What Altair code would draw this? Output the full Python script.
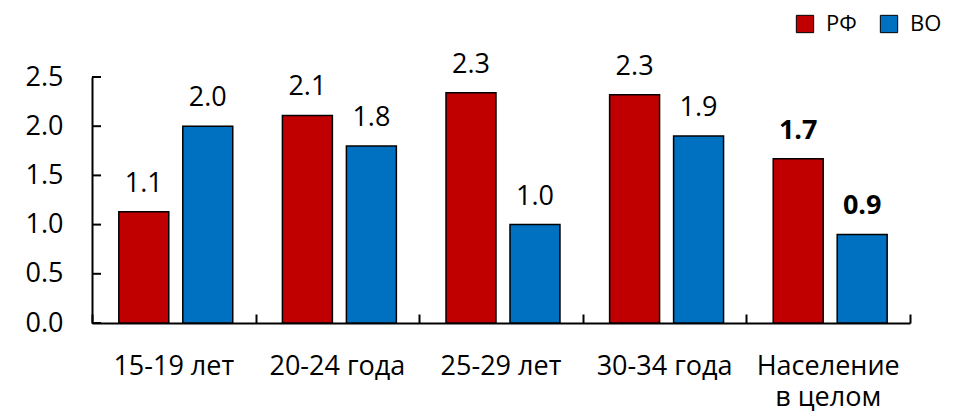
import altair as alt
import pandas as pd

categories = ["15-19 лет", "20-24 года", "25-29 лет", "30-34 года", "Население в целом"]
series = ["РФ", "ВО"]
rf_values = [1.13, 2.11, 2.34, 2.32, 1.67]
vo_values = [2.0, 1.8, 1.0, 1.9, 0.9]
colors = ["#C00000", "#0070C0"]
y_ticks = [0, 0.5, 1.0, 1.5, 2.0, 2.5]
bold_category = "Население в целом"

rows = []
for i, c in enumerate(categories):
    rows.append({"cat": c, "series": series[0], "value": rf_values[i]})
    rows.append({"cat": c, "series": series[1], "value": vo_values[i]})
df = pd.DataFrame(rows)
ticks_df = pd.DataFrame({"tick": y_ticks})

W, H = 818, 246
FONT = "Open Sans"
TICK_LEN = 9

xscale = alt.Scale(paddingInner=0, paddingOuter=0)
yscale = alt.Scale(domain=[0, 2.5], nice=False, zero=True)
xoff = alt.XOffset("series:N", sort=series,
                   scale=alt.Scale(paddingInner=0.219, paddingOuter=0.388, align=0.54))

label_expr = ("datum.label == 'Население в целом' ? ['Население', 'в целом'] : datum.label")

bars = alt.Chart(df).mark_bar(stroke="black", strokeWidth=1.5).encode(
    x=alt.X("cat:N", sort=categories, scale=xscale,
            axis=alt.Axis(title=None, orient="bottom", labelFont=FONT, labelFontSize=27,
                          labelColor="black", labelPadding=30, labelLineHeight=31,
                          labelAngle=0, ticks=False, tickSize=0, domainColor="black",
                          domainWidth=2, labelExpr=label_expr)),
    xOffset=xoff,
    y=alt.Y("value:Q", scale=yscale,
            axis=alt.Axis(title=None, orient="left", values=y_ticks, format=".1f",
                          labelFont=FONT, labelFontSize=27, labelColor="black",
                          labelPadding=29, ticks=False, tickSize=0, grid=False,
                          domainColor="black", domainWidth=2)),
    color=alt.Color("series:N", sort=series,
                    scale=alt.Scale(domain=series, range=colors),
                    legend=alt.Legend(title=None, orient="none", legendX=702, legendY=-64,
                                      direction="horizontal", symbolType="square",
                                      symbolSize=300, symbolStrokeColor="black",
                                      symbolStrokeWidth=1, symbolOpacity=1,
                                      labelFont=FONT, labelFontSize=22, labelColor="black",
                                      labelOffset=10, columnPadding=21)),
)

texts_normal = alt.Chart(df).transform_filter(
    alt.datum.cat != bold_category
).mark_text(font=FONT, fontSize=27, baseline="alphabetic", dy=-20, color="black").encode(
    x=alt.X("cat:N", sort=categories, scale=xscale,
            axis=alt.Axis(title=None, orient="top", offset=-H, labels=False,
                          domain=False, ticks=True, tickSize=TICK_LEN, tickColor="black",
                          tickWidth=2, tickBand="extent", grid=False)),
    xOffset=xoff,
    y=alt.Y("value:Q", scale=yscale, axis=None),
    text=alt.Text("value:Q", format=".1f"),
)

texts_bold = alt.Chart(df).transform_filter(
    alt.datum.cat == bold_category
).mark_text(font=FONT, fontSize=27, fontWeight="bold", baseline="alphabetic", dy=-20,
            color="black").encode(
    x=alt.X("cat:N", sort=categories, scale=xscale, axis=None),
    xOffset=xoff,
    y=alt.Y("value:Q", scale=yscale, axis=None),
    text=alt.Text("value:Q", format=".1f"),
)

# inward-pointing y-axis tick marks
y_tick_marks = alt.Chart(ticks_df).mark_rule(color="black", strokeWidth=2).encode(
    y=alt.Y("tick:Q", scale=yscale, axis=None),
    x=alt.value(0),
    x2=alt.value(TICK_LEN),
)

chart = alt.layer(bars, texts_normal, texts_bold, y_tick_marks).resolve_axis(
    x="independent", y="independent"
).properties(
    width=W, height=H,
    autosize=alt.AutoSizeParams(type="none"),
    padding={"left": 84, "top": 69, "right": 40, "bottom": 89},
).configure_view(stroke=None)

chart.save("out.html", embed_options={"renderer": "svg", "actions": False})
